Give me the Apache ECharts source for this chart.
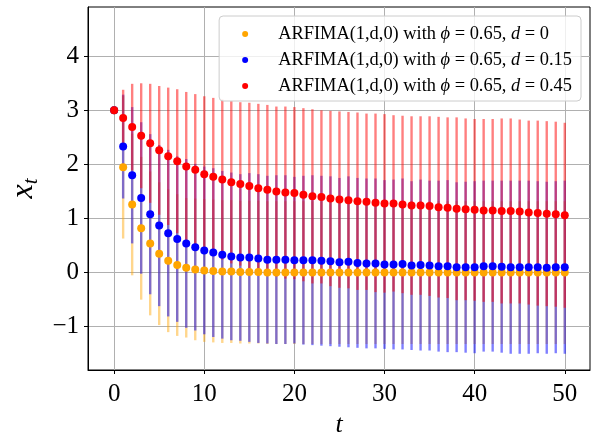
<!DOCTYPE html>
<html><head><meta charset="utf-8">
<script src="https://cdn.jsdelivr.net/npm/echarts@6/dist/echarts.min.js"></script>
<style>html,body{margin:0;padding:0;background:#fff}#c{width:597px;height:434px}</style>
</head><body><div id="c"></div>
<script>
// time steps
const t = [0,1,2,3,4,5,6,7,8,9,10,11,12,13,14,15,16,17,18,19,20,21,22,23,24,25,26,27,28,29,30,31,32,33,34,35,36,37,38,39,40,41,42,43,44,45,46,47,48,49,50];

// d = 0 (orange): mean and half-length of error bar
const meanD0 = [3.00,1.95,1.26,0.82,0.54,0.35,0.22,0.14,0.09,0.06,0.04,0.03,0.02,0.02,0.01,0.01,0.01,0.00,0.00,0.00,0.00,0.00,0.00,0.00,0.00,0.00,0.00,0.00,0.00,0.00,0.00,0.00,0.00,0.00,0.00,0.00,0.00,0.00,0.00,0.00,0.00,0.00,0.00,0.00,0.00,0.00,0.00,0.00,0.00,0.00,0.00];
const errD0  = [0,1.32,1.31,1.32,1.33,1.32,1.32,1.31,1.29,1.31,1.32,1.32,1.32,1.32,1.32,1.32,1.32,1.32,1.32,1.32,1.32,1.32,1.32,1.32,1.32,1.32,1.32,1.32,1.32,1.32,1.32,1.32,1.32,1.32,1.32,1.32,1.32,1.32,1.32,1.32,1.32,1.32,1.32,1.32,1.32,1.32,1.32,1.32,1.32,1.32,1.32];

// d = 0.15 (blue)
const meanD15 = [3.00,2.33,1.80,1.38,1.08,0.87,0.73,0.62,0.54,0.47,0.41,0.37,0.33,0.30,0.28,0.28,0.26,0.24,0.24,0.24,0.23,0.23,0.23,0.22,0.21,0.19,0.20,0.18,0.17,0.17,0.15,0.15,0.16,0.13,0.14,0.13,0.12,0.12,0.10,0.10,0.10,0.12,0.12,0.11,0.10,0.10,0.10,0.10,0.09,0.10,0.10];
const errD15  = [0,0.96,1.26,1.40,1.48,1.49,1.54,1.53,1.56,1.54,1.55,1.56,1.55,1.55,1.54,1.56,1.56,1.55,1.56,1.56,1.54,1.56,1.57,1.57,1.57,1.56,1.58,1.57,1.57,1.57,1.56,1.57,1.58,1.56,1.58,1.57,1.58,1.59,1.57,1.58,1.59,1.58,1.58,1.59,1.60,1.60,1.60,1.59,1.59,1.59,1.60];

// d = 0.45 (red)
const meanD45 = [3.00,2.86,2.69,2.53,2.39,2.26,2.15,2.06,1.96,1.90,1.82,1.77,1.72,1.67,1.64,1.60,1.56,1.53,1.50,1.48,1.47,1.44,1.41,1.40,1.37,1.35,1.34,1.32,1.31,1.29,1.28,1.28,1.26,1.24,1.24,1.23,1.21,1.20,1.18,1.17,1.16,1.15,1.15,1.14,1.14,1.13,1.11,1.10,1.09,1.08,1.06];
const errD45  = [0,0.52,0.80,0.97,1.10,1.19,1.27,1.33,1.38,1.40,1.44,1.46,1.48,1.50,1.51,1.54,1.56,1.57,1.57,1.59,1.59,1.60,1.61,1.60,1.62,1.63,1.63,1.64,1.63,1.65,1.65,1.63,1.64,1.65,1.65,1.66,1.67,1.67,1.69,1.68,1.68,1.69,1.69,1.71,1.71,1.70,1.70,1.71,1.71,1.71,1.71];

const xTicks = [0,10,20,30,40,50];
const yTicks = [-1,0,1,2,3,4];
const seriesNames = ['d=0','d=0.15','d=0.45'];
const dValues = ['0','0.15','0.45'];

const FONT = 'Liberation Serif';
const colors = ['#FFA500','#0000FF','#FF0000'];
const barColors = ['rgba(255,165,0,0.45)','rgba(0,0,255,0.5)','rgba(255,0,0,0.5)'];
const means = [meanD0, meanD15, meanD45];
const errs = [errD0, errD15, errD45];

function errSeries(k){
  return {
    type:'custom', silent:true, z:2,
    data: t.map((x,i)=>[x, means[k][i], errs[k][i]]),
    encode:{x:0, y:1},
    renderItem:(params, api)=>{
      const x = api.value(0), m = api.value(1), e = api.value(2);
      const p1 = api.coord([x, m - e]), p2 = api.coord([x, m + e]);
      return {type:'line', shape:{x1:p1[0], y1:p1[1], x2:p2[0], y2:p2[1]},
              style:{stroke:barColors[k], lineWidth:2.4}};
    }
  };
}
function ptSeries(k){
  return {
    type:'scatter', name:seriesNames[k], z:3, symbol:'circle', symbolSize:8,
    itemStyle:{color:colors[k], opacity:1},
    data: t.map((x,i)=>[x, means[k][i]])
  };
}

const chart = echarts.init(document.getElementById('c'), null, {renderer:'canvas'});
chart.setOption({
  animation:false,
  backgroundColor:'#fff',
  grid:{left:88, right:7, top:7, bottom:64, containLabel:false, outerBoundsMode:'none',
        show:true, borderColor:'#000', borderWidth:1, backgroundColor:'transparent'},
  legend:{
    data: seriesNames, orient:'vertical', right:16, top:16,
    backgroundColor:'rgba(255,255,255,0.8)', borderColor:'#cccccc', borderWidth:1, borderRadius:4,
    padding:[8,9,5,23], itemWidth:6, itemHeight:6, itemGap:6, icon:'circle',
    textStyle:{fontFamily:FONT, fontSize:18.4, color:'#000', lineHeight:20, padding:[0,0,0,25],
      rich:{i:{fontFamily:FONT, fontStyle:'italic', fontSize:18.4, color:'#000', lineHeight:20},
            n:{fontFamily:FONT, fontSize:18.4, color:'#000', lineHeight:20}}},
    formatter:(name)=>{
      const k = seriesNames.indexOf(name);
      return '{n|ARFIMA(1,d,0) with }{i|ϕ}{n| = 0.65, }{i|d}{n| = ' + dValues[k] + '}';
    }
  },
  xAxis:{
    type:'value', min:-2.9, max:52.8,
    axisLine:{show:true, onZero:false, lineStyle:{color:'#000', width:1}},
    axisTick:{show:true, inside:false, length:4, customValues:xTicks, lineStyle:{color:'#000', width:1}},
    axisLabel:{customValues:xTicks, fontFamily:FONT, fontSize:25, color:'#000', margin:12},
    splitLine:{show:true, lineStyle:{color:'#b0b0b0', width:1}},
    name:'t', nameLocation:'middle', nameGap:42,
    nameTextStyle:{fontFamily:FONT, fontStyle:'italic', fontSize:26, color:'#000'}
  },
  yAxis:{
    type:'value', min:-1.8, max:4.91,
    axisLine:{show:true, onZero:false, lineStyle:{color:'#000', width:1}},
    axisTick:{show:true, inside:false, length:4, customValues:yTicks, lineStyle:{color:'#000', width:1}},
    axisLabel:{customValues:yTicks, fontFamily:FONT, fontSize:25, color:'#000', margin:9,
      formatter:(v)=> v < 0 ? '\u2212' + Math.abs(v) : String(v)},
    splitLine:{show:true, lineStyle:{color:'#b0b0b0', width:1}},
    name:'{x|x}{s|t}', nameLocation:'middle', nameGap:46,
    nameTextStyle:{fontFamily:FONT, color:'#000',
      rich:{x:{fontFamily:FONT, fontStyle:'italic', fontSize:32, color:'#000'},
            s:{fontFamily:FONT, fontStyle:'italic', fontSize:21, color:'#000', verticalAlign:'bottom', padding:[14,0,0,0]}}}
  },
  series:[errSeries(0), errSeries(1), errSeries(2), ptSeries(0), ptSeries(1), ptSeries(2)]
});
</script>
</body></html>
